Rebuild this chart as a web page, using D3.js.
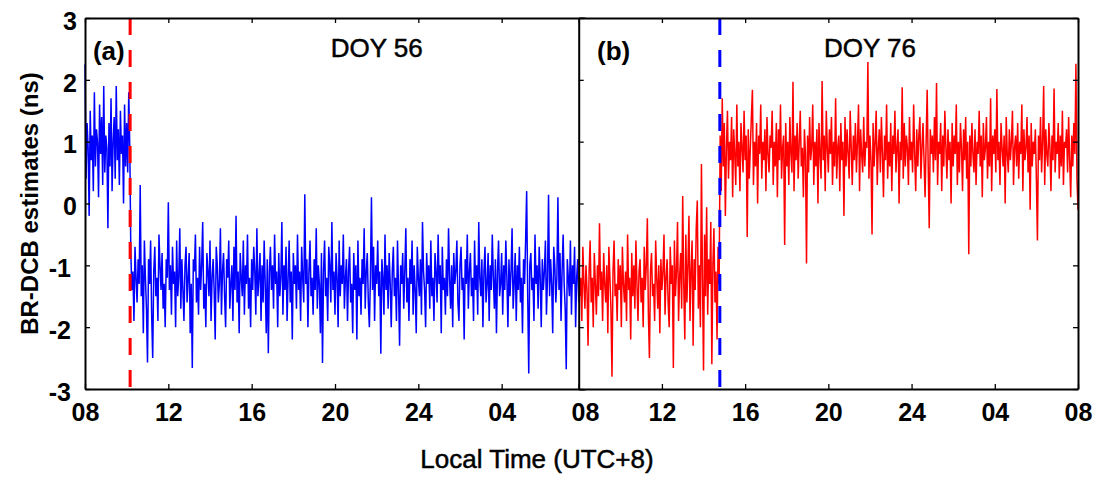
<!DOCTYPE html>
<html>
<head>
<meta charset="utf-8">
<script src="https://cdn.jsdelivr.net/npm/d3@7"></script>
<style>
  body { margin: 0; background: #fff; }
  text { font-family: "Liberation Sans", Arial, Helvetica, sans-serif; }
</style>
</head>
<body>
<div id="chart"></div>
<script>
// hours after 08:00 local time, and how the axis labels them
const hourTicks = [0, 4, 8, 12, 16, 20, 24];
const hourLabels = ["08", "12", "16", "20", "24", "04", "08"];
const yTicks = [-3, -2, -1, 0, 1, 2, 3];

// one estimate every 3 minutes, starting 08:00 LT
const stepMinutes = 3;

// DOY 56: receiver switched at about 10:10 LT
const doy56 = [
  2.25, 0.4, 1.3, 0.9, -0.2, 1.5, 0.7, 1.1, 0.2, 1.8, 0.6, 1.2, 1.0, 0.1, 1.6, 0.8, 1.4, 0.3, 1.9, 0.5,
  1.1, 0.9, -0.4, 1.3, 0.6, 1.7, 0.2, 1.0, 1.4, 0.4, 1.9, 0.7, 1.2, 0.3, 1.5, 0.8, 1.1, 0.0, 1.6, 0.6,
  1.3, 0.5, 1.8, 0.9,
  -0.8, -1.4, -1.1, -1.9, -0.7, -1.2, -1.6, -0.9, -1.3, 0.3, -1.5, -1.0, -2.1, -0.6, -1.2, -1.7,
  -2.57, -0.9, -1.3, -0.6, -1.8, -2.5, -1.1, -0.7, -1.5, -1.2, -1.9, -0.5, -1.0, -1.4, -0.8, -1.7, -1.3, -2.0, -0.9, -1.2,
  0.02, -1.4, -1.0, -1.8, -0.7, -1.3, -1.1, -2.0, -0.6, -1.5, -1.2, -0.4, -1.7, -0.9, -1.4, -1.9, -1.0, -0.7, -1.6, -1.2,
  -0.8, -2.1, -1.3, -2.66, -0.9, -1.1, -0.5, -1.6, -1.2, -1.8, -0.7, -1.4, -1.0, -0.3, -1.7, -1.3, -2.0, -0.8, -1.1, -1.5,
  -0.6, -1.9, -1.2, -0.9, -1.4, -2.2, -0.7, -1.0, -1.6, -1.3, -0.4, -1.8, -1.1, -0.8, -1.5, -2.0, -0.9, -1.2, -0.6, -1.7,
  -1.3, -1.0, -1.9, -0.7, -1.4, -0.2, -1.6, -1.1, -2.1, -0.8, -1.2, -1.5, -0.6, -1.8, -1.0, -1.3, -0.5, -1.7, -1.2, -2.0,
  -0.9, -1.4, -0.7, -1.1, -1.8, -0.4, -1.5, -1.2, -0.8, -1.9, -1.0, -1.6, -0.6, -1.3, -2.1, -0.9, -2.42, -1.1, -0.7, -1.4,
  -1.0, -1.7, -0.5, -1.3, -1.1, -2.0, -0.8, -1.5, -1.2, -0.3, -1.8, -1.0, -1.4, -0.7, -1.9, -1.2, -0.6, -1.6, -1.1, -2.2,
  -0.8, -1.3, -1.0, -1.7, -0.5, -1.4, -1.1, -1.9, -0.7, -1.2, -1.6, 0.15, -1.3, -0.9, -2.0, -1.1, -0.6, -1.5, -1.2, -1.8,
  -0.9, -1.4, -0.4, -1.7, -1.0, -1.3, -2.1, -0.8, -2.58, -1.1, -0.6, -1.5, -1.2, -1.9, -0.7, -1.0, -1.6, -0.3, -1.4, -1.1,
  -1.8, -0.8, -1.2, -2.0, -0.6, -1.5, -1.0, -1.3, -0.5, -1.7, -1.2, -0.9, -1.9, -1.1, -0.7, -1.6, -1.3, -2.1, -0.8, -1.4,
  -1.0, -2.2, -0.6, -1.5, -1.2, -1.8, -0.9, -1.3, -0.4, -1.7, -1.1, -0.8, -1.6, -2.0, -1.2, 0.1, -1.4, -0.7, -1.9, -1.0,
  -1.3, -0.6, -1.5, -1.1, -2.43, -0.9, -1.2, -1.8, -0.5, -1.4, -1.0, -1.7, -0.8, -1.3, -2.0, -1.1, -0.7, -1.5, -1.2, -1.9,
  -0.6, -1.4, -2.3, -1.0, -1.3, -0.8, -1.7, -1.1, -0.4, -1.6, -1.2, -1.9, -0.9, -1.3, -0.6, -1.8, -1.0, -1.4, -2.1, -0.7,
  -1.2, -1.5, -0.9, -1.8, -0.3, -1.1, -1.4, -2.0, -0.8, -1.3, -1.0, -1.7, -0.6, -1.5, -1.2, -1.9, -0.8, -1.1, -1.6, -0.5,
  -1.3, -1.0, -2.1, -0.7, -1.4, -1.2, -1.8, -0.9, -1.5, -0.4, -1.2, -1.7, -1.0, -2.0, -0.8, -1.3, -1.1, -0.6, -1.6, -1.9,
  -1.0, -0.7, -1.4, -1.2, -2.2, -0.9, -1.3, -0.5, -1.7, -1.1, -0.8, -1.5, -1.2, -1.9, -0.6, -1.4, -1.0, -1.8, -0.3, -1.2,
  -1.5, -0.9, -2.0, -1.1, -0.7, -1.6, -1.3, -0.8, -1.9, -1.0, -1.4, -0.5, -1.2, -1.7, -0.9, -2.1, -1.1, -0.6, -1.5, -1.3,
  -0.8, -1.8, -1.0, -1.4, -0.6, -1.2, -2.0, -0.9, -1.5, -1.1, -0.4, -1.7, -1.3, -0.8, -1.9, -1.0, -1.4, -0.7, -1.6, -1.2,
  -2.1, -0.9, -1.3, -0.6, 0.2, -1.5, -2.75, -1.0, -0.8, -1.4, -1.2, -1.9, -0.5, -1.3, -1.0, -1.7, -0.7, -1.2, -2.0, -0.9,
  -1.4, -1.1, -0.6, -1.8, -1.2, 0.14, -1.5, -0.9, -1.3, -2.1, -0.7, -1.0, -1.6, -1.2, 0.1, -1.4, -0.8, -1.9, -1.1, -0.5,
  -1.3, -1.7, -2.68, -0.9, -1.2, -1.5, -0.6, -1.8, -1.0, -1.3, -0.7, -2.0, -1.2, -0.9, -1.6, -1.1, -0.4, -1.4, -1.8, -1.0,
  -1.2
];

// DOY 76: receiver switched at about 14:47 LT
const doy76 = [
  -0.9, -1.5, -1.2, -1.9, -0.7, -1.3, -1.7, -1.0, -1.4, -2.3, -1.1, -0.6, -1.6, -1.2, -2.0, -0.8, -1.3, -1.8, -1.0, -1.5,
  -0.32, -1.4, -1.1, -1.9, -0.8, -1.3, -1.6, -1.0, -2.1, -0.7, -1.2, -1.7, -2.8, -1.1, -0.6, -1.5, -1.3, -1.9, -0.9, -1.4,
  -1.0, -2.0, -0.7, -1.3, -1.6, -1.1, -1.9, -0.5, -1.4, -1.2, -2.2, -0.8, -1.5, -1.0, -1.7, -0.6, -1.3, -1.9, -1.1, -0.9,
  -1.6, -1.2, -2.0, -0.7, -1.4, -1.0, -0.24, -1.8, -2.5, -1.1, -0.8, -1.5, -1.3, -1.9, -0.6, -1.2, -1.7, -1.0, -2.1, -0.9,
  -1.4, -1.1, -0.5, -1.8, -1.2, -0.9, -1.6, -2.0, -0.7, -1.3, -1.0, -2.66, -0.6, -1.5, -1.1, -0.3, -1.9, -1.2, -0.8, -1.7,
  0.12, -1.3, -2.2, -0.5, -1.6, -1.0, -0.2, -1.9, -1.1, -0.6, -2.3, -0.9, -1.4, -0.4, 0.05, -1.7, -1.0, -2.0, 0.64, -1.2,
  -2.7, -0.5, -1.5, -0.06, -1.8, -0.9, -1.3, -0.3, -2.6, -1.0, -0.4, -1.6, -1.1, -2.2, -0.7, -1.3,
  1.1, 0.2, 1.7, 0.6,
  1.3, -0.2, 0.9, 1.5, 0.4, 1.0, 0.7, 1.4, 0.1, 1.2, 0.8, 0.3, 1.6, 0.6, 1.0, 0.2, 1.3, 0.9, 0.5, 1.5,
  0.7, 1.1, -0.54, 1.2, 0.4, 0.9, 1.4, 1.84, 0.3, 1.0, 0.6, 1.3, 0.0, 1.1, 0.8, 1.6, 0.4, 1.0, 0.7, 1.2,
  0.2, 1.4, 0.8, 0.5, 1.1, 0.9, 1.5, 0.3, 1.0, 0.6, 1.3, 0.1, 1.2, 0.7, 1.6, 0.4, 0.9, 1.1, -0.67, 1.3,
  0.6, 1.0, 0.3, 1.4, 0.8, 0.5, 1.97, 0.2, 1.1, 0.7, 1.3, 0.4, 1.0, 1.5, 0.6, 0.9, 0.1, 1.2, 0.8, -0.97,
  1.1, 0.5, 1.4, 0.7, 0.9, 1.6, 0.3, 1.0, 0.6, 1.2, 0.0, 1.3, 0.8, 0.4, 1.98, 0.7, 1.1, 0.2, 1.5, 0.9,
  0.5, 1.2, 0.8, 1.4, 0.3, 1.0, 0.6, 1.7, 0.4, 0.9, 1.1, 0.2, 1.3, 0.7, 1.0, -0.2, 1.4, 0.6, 1.2, 0.8,
  0.4, 1.5, 0.9, 0.3, 1.1, 0.7, 1.3, 0.5, 1.0, 1.6, 0.2, 1.2, 0.8, 0.5, 1.4, 0.6, 1.0, 0.9, 2.29, 0.4,
  1.1, 0.7, -0.5, 1.3, 0.6, 1.0, 1.5, 0.3, 0.9, 1.2, 0.5, 1.4, 0.8, 0.1, 1.1, 0.7, 1.6, 0.4, 1.0, 0.6,
  1.3, 0.2, 1.1, 0.8, 1.5, 0.5, 0.9, 1.2, 0.0, 1.0, 0.7, 1.88, 0.4, 1.3, 0.6, 1.1, 0.9, 0.3, 1.4, 0.7,
  1.0, 0.5, 1.6, 0.8, 0.2, 1.2, 0.6, 1.1, 1.4, 0.4, 0.9, 1.3, 0.7, 0.1, 1.0, 1.84, 0.6, -0.4, 1.2, 0.8,
  1.1, 0.5, 1.4, 0.7, 1.95, 0.3, 1.0, 0.8, 1.3, 0.2, 1.1, 0.6, 1.5, 0.9, 0.4, 1.2, 0.7, 1.0, 0.0, 1.3,
  0.6, 1.1, 0.8, 1.6, 0.3, 1.0, 0.5, 1.3, 0.9, 0.2, 1.2, 0.7, 1.4, 0.4, 1.0, -0.82, 1.1, 0.6, 1.3, 0.8,
  0.5, 1.2, 0.3, 1.0, 0.8, 1.5, 0.6, 1.1, 0.1, 1.3, 0.7, 0.9, 1.4, 0.4, 1.0, 0.6, 1.7, 0.2, 1.1, 0.8,
  1.2, 0.5, 1.85, 0.7, 1.0, 0.3, 1.3, 0.9, 0.6, 1.1, 0.0, 1.4, 0.8, 0.5, 1.2, 0.7, 1.0, 1.5, 0.3, 0.9,
  1.1, 0.6, 1.3, 0.4, 1.0, 0.8, 1.6, 0.2, 1.2, 0.7, 0.9, 1.4, 0.5, 1.1, -0.1, 1.3, 0.6, 1.0, 0.8, 1.2,
  0.4, -0.6, 1.1, 0.7, 1.4, 0.5, 1.0, 1.9, 0.3, 1.2, 0.8, 0.6, 1.3, 0.9, 0.2, 1.1, 0.7, 1.86, 0.5, 1.0,
  0.8, 1.3, 0.4, 1.1, 0.6, 1.5, 0.3, 1.0, 0.9, 1.2, 0.5, 1.4, 0.7, 0.1, 1.1, 0.6, 1.3, 0.8, 2.26, 0.4,
  -0.1
];

// switch times in hours after 08:00
const switch56 = 2 + 10 / 60;
const switch76 = 6 + 47 / 60;

const width = 1097, height = 480;
const plotTop = 18, plotBottom = 389;

const svg = d3.select("#chart").append("svg")
    .attr("width", width)
    .attr("height", height);

const y = d3.scaleLinear().domain([-3, 3]).range([plotBottom, plotTop]);

function styleAxis(g, fontSize)
{
    g.select(".domain").attr("stroke", "#000").attr("stroke-width", 2);
    g.selectAll(".tick line").attr("stroke", "#000").attr("stroke-width", 1.3);
    g.selectAll(".tick text")
        .attr("fill", "#000")
        .style("font-size", fontSize + "px")
        .style("font-weight", "bold");
}

function drawPanel(opt)
{
    const x = d3.scaleLinear().domain([0, 24]).range([opt.left, opt.right]);
    const g = svg.append("g");

    if(opt.cover)
    {
        g.append("rect")
            .attr("x", x(0)).attr("y", plotTop)
            .attr("width", x(24) - x(0)).attr("height", plotBottom - plotTop)
            .attr("fill", "#fff");
    }

    const line = d3.line()
        .x((d, i) => x(i * stepMinutes / 60))
        .y(d => y(d));

    g.append("path")
        .datum(opt.values)
        .attr("d", line)
        .attr("fill", "none")
        .attr("stroke", opt.lineColor)
        .attr("stroke-width", 1.5);

    g.append("line")
        .attr("x1", x(opt.switchAt)).attr("x2", x(opt.switchAt))
        .attr("y1", plotTop).attr("y2", plotBottom)
        .attr("stroke", opt.dashColor)
        .attr("stroke-width", 3)
        .attr("stroke-dasharray", "17,15");

    // axes, ticks point inward on every side
    const bottomAxis = g.append("g")
        .attr("transform", `translate(0,${plotBottom})`)
        .call(d3.axisBottom(x)
            .tickValues(hourTicks)
            .tickFormat((d, i) => (i === 0 && !opt.firstLabel) ? "" : hourLabels[i])
            .tickSize(-5).tickSizeOuter(0).tickPadding(14));
    styleAxis(bottomAxis, 25);

    const topAxis = g.append("g")
        .attr("transform", `translate(0,${plotTop})`)
        .call(d3.axisTop(x).tickValues(hourTicks).tickFormat("").tickSize(-5).tickSizeOuter(0));
    styleAxis(topAxis, 25);

    const leftAxis = g.append("g")
        .attr("transform", `translate(${x(0)},0)`)
        .call(d3.axisLeft(y)
            .tickValues(yTicks)
            .tickFormat(d => opt.yLabels ? String(d) : "")
            .tickSize(-5).tickSizeOuter(0).tickPadding(8));
    styleAxis(leftAxis, 25);
    leftAxis.selectAll(".tick text")
        .attr("dy", "0.45em")
        .attr("dx", d => d < 0 ? -6 : 0);

    if(opt.rightAxis)
    {
        const rightAxis = g.append("g")
            .attr("transform", `translate(${x(24)},0)`)
            .call(d3.axisRight(y).tickValues(yTicks).tickFormat("").tickSize(-5).tickSizeOuter(0));
        styleAxis(rightAxis, 25);
    }

    g.append("text")
        .attr("x", x(opt.tagAt)).attr("y", 60)
        .style("font-size", "26px").style("font-weight", "bold")
        .text(opt.tag);

    g.append("text")
        .attr("x", x(14)).attr("y", 57)
        .attr("text-anchor", "middle")
        .attr("stroke", "#000").attr("stroke-width", 0.5)
        .style("font-size", "26px")
        .text(opt.title);
}

drawPanel({
    values: doy56, left: 85, right: 585,
    lineColor: "#0000ff", dashColor: "#ff0000", switchAt: switch56,
    firstLabel: true, yLabels: true, cover: false, rightAxis: false,
    tag: "(a)", tagAt: 0.38, title: "DOY 56"
});

drawPanel({
    values: doy76, left: 578.7, right: 1078,
    lineColor: "#ff0000", dashColor: "#0000ff", switchAt: switch76,
    firstLabel: false, yLabels: false, cover: true, rightAxis: true,
    tag: "(b)", tagAt: 0.88, title: "DOY 76"
});

svg.append("text")
    .attr("transform", `translate(38,${(plotTop + plotBottom) / 2}) rotate(-90)`)
    .attr("text-anchor", "middle")
    .style("font-size", "24px").style("font-weight", "bold")
    .text("BR-DCB estimates (ns)");

svg.append("text")
    .attr("x", 537).attr("y", 468)
    .attr("text-anchor", "middle")
    .attr("stroke", "#000").attr("stroke-width", 0.5)
    .style("font-size", "26px")
    .text("Local Time (UTC+8)");
</script>
</body>
</html>
